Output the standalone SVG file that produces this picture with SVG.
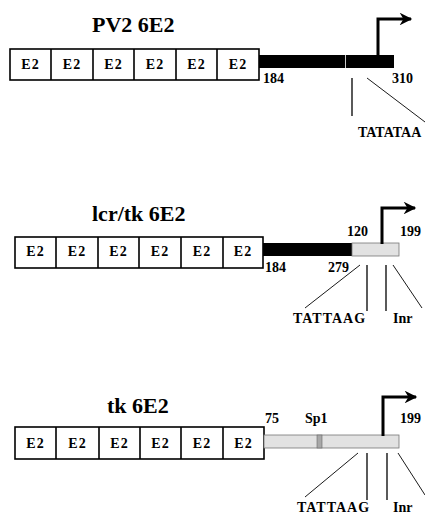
<svg xmlns="http://www.w3.org/2000/svg" width="425" height="515" viewBox="0 0 425 515" font-family="'Liberation Serif', 'DejaVu Serif', serif">
<style>
text{font-family:"Liberation Serif","Times New Roman","DejaVu Serif",serif;font-weight:bold;fill:#000}
.title{font-size:22px}
.e2{font-size:14px;text-anchor:middle;letter-spacing:1px}
.num{font-size:14px}
.box{fill:#fff;stroke:#000;stroke-width:1.6}
.blk{fill:#000}
.gry{fill:#e2e2e2;stroke:#777;stroke-width:0.8}
.tss{fill:none;stroke:#000;stroke-width:3}
.ln{stroke:#000;stroke-width:1.3;fill:none}
.dg{stroke:#000;stroke-width:0.9;fill:none}
</style>
<defs>
<marker id="ah" viewBox="0 0 10 10" refX="9" refY="5" markerWidth="5" markerHeight="4.2" markerUnits="strokeWidth" orient="auto">
<path d="M0,0 L10,5 L0,10 L3,5 Z" fill="#000"/>
</marker>
</defs>

<g id="pv2">
<text class="title" x="92" y="32">PV2 6E2</text>
<rect class="box" x="10" y="49" width="249" height="31"/>
<path class="ln" d="M51,49V80M93,49V80M134,49V80M176,49V80M217,49V80" style="stroke-width:1.6"/>
<text class="e2" x="30.5" y="69">E2</text>
<text class="e2" x="72" y="69">E2</text>
<text class="e2" x="113.5" y="69">E2</text>
<text class="e2" x="155" y="69">E2</text>
<text class="e2" x="196.5" y="69">E2</text>
<text class="e2" x="238" y="69">E2</text>
<rect class="blk" x="259" y="55" width="135" height="13"/>
<line x1="345.5" y1="55" x2="345.5" y2="68" stroke="#fff" stroke-width="0.8"/>
<path class="tss" d="M378,56V19H411" marker-end="url(#ah)"/>
<text class="num" x="263" y="83">184</text>
<text class="num" x="392" y="83">310</text>
<text class="num" x="358" y="137">TATATAA</text>
</g>

<g id="lcrtk">
<text class="title" x="92" y="221">lcr/tk 6E2</text>
<rect class="box" x="15" y="237" width="248" height="31"/>
<path class="ln" d="M56,237V268M98,237V268M139,237V268M181,237V268M223,237V268" style="stroke-width:1.6"/>
<text class="e2" x="35.5" y="256">E2</text>
<text class="e2" x="77" y="256">E2</text>
<text class="e2" x="118.5" y="256">E2</text>
<text class="e2" x="160" y="256">E2</text>
<text class="e2" x="202" y="256">E2</text>
<text class="e2" x="243" y="256">E2</text>
<rect class="blk" x="263" y="243" width="89" height="13"/>
<rect class="gry" x="352" y="243" width="47" height="13"/>
<path class="tss" d="M382,244V208H415" marker-end="url(#ah)"/>
<text class="num" x="347" y="236">120</text>
<text class="num" x="400" y="236">199</text>
<text class="num" x="265" y="272">184</text>
<text class="num" x="328" y="272">279</text>
<text class="num" x="293" y="323" letter-spacing="1">TATTAAG</text>
<text class="num" x="393" y="323">Inr</text>
</g>

<g id="tk">
<text class="title" x="107" y="413">tk 6E2</text>
<rect class="box" x="15" y="427" width="249" height="32"/>
<path class="ln" d="M56,427V459M99,427V459M140,427V459M181,427V459M223,427V459" style="stroke-width:1.6"/>
<text class="e2" x="35.5" y="448">E2</text>
<text class="e2" x="77.5" y="448">E2</text>
<text class="e2" x="119.5" y="448">E2</text>
<text class="e2" x="160.5" y="448">E2</text>
<text class="e2" x="202" y="448">E2</text>
<text class="e2" x="243.5" y="448">E2</text>
<rect class="gry" x="264" y="435" width="135" height="13"/>
<rect x="317" y="435" width="5" height="13" fill="#a8a8a8" stroke="#666" stroke-width="0.6"/>
<path class="tss" d="M383,436V397H416" marker-end="url(#ah)"/>
<text class="num" x="265" y="423">75</text>
<text class="num" x="305" y="423">Sp1</text>
<text class="num" x="400" y="423">199</text>
<text class="num" x="297" y="512" letter-spacing="1">TATTAAG</text>
<text class="num" x="393" y="512">Inr</text>
</g>

<g id="connectors">
<line class="ln" x1="352" y1="78" x2="352" y2="116"/>
<line class="dg" x1="367" y1="78" x2="425" y2="122"/>
<line class="dg" x1="360" y1="265" x2="305" y2="308"/>
<line class="ln" x1="367" y1="265" x2="367" y2="311"/>
<line class="ln" x1="386" y1="265" x2="386" y2="311"/>
<line class="dg" x1="393" y1="265" x2="422" y2="308"/>
<line class="dg" x1="358" y1="453" x2="305" y2="497"/>
<line class="ln" x1="367" y1="453" x2="367" y2="500"/>
<line class="ln" x1="387" y1="453" x2="387" y2="500"/>
<line class="dg" x1="398" y1="453" x2="425" y2="495"/>
</g>
</svg>
